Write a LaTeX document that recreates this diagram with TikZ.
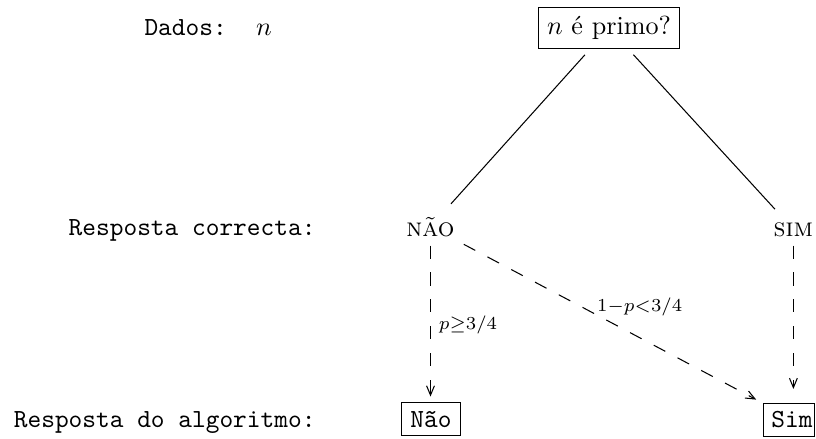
\documentclass[tikz,border=0pt]{standalone}
\usepackage{fontspec}
\usetikzlibrary{arrows.meta}
\begin{document}
\begin{tikzpicture}[x=0.383pt,y=-0.383pt,
  box/.style={draw, inner sep=3.33pt},
  plain/.style={inner sep=0pt},
  dsh/.style={dash pattern=on 5pt off 5.3pt},
  tip/.style={-{Straight Barb[length=3.6pt,width=3pt]}},
  lab/.style={inner sep=0pt, anchor=base west}]
\useasboundingbox (0,0) rectangle (816,438);
% left column
\node[plain, anchor=base west] (dados) at (144,35) {\texttt{Dados:}};
\node[plain, anchor=base] (n) at (264,35) {$n$};
\node[plain, anchor=base east] (rc) at (316,235) {\texttt{Resposta correcta:}};
\node[plain, anchor=base east] (ra) at (316,427) {\texttt{Resposta do algoritmo:}};
% tree
\node[box] (q) at (609,28) {$n$ é primo?};
\node[anchor=base] (nao) at (430.5,236) {\textsc{não}};
\node[anchor=base] (sim) at (793.4,236) {\textsc{sim}};
\node[box, anchor=base] (naob) at (431,427) {\texttt{Não}};
\node[plain, anchor=base] (simb) at (792,427) {\texttt{Sim}};
\node[draw, inner sep=0pt, minimum width=19.4pt, minimum height=12.4pt] (simf) at (789,420) {};
% connectors
\draw[shorten <=3pt, shorten >=2pt] (q) -- (nao);
\draw[shorten <=3pt, shorten >=2pt] (q) -- (sim);
\draw[dsh, tip, shorten >=2pt] (nao.south) -- (nao.south |- naob.north);
\draw[dsh, tip, shorten >=5.5pt] (sim.south) -- (sim.south |- simf.north);
\draw[dsh, tip, shorten >=3pt] (nao) -- (simf.north west);
% labels
\node[lab] (l1) at (438.3,329) {$\scriptstyle p\geq 3/4$};
\node[lab] (l2) at (596.7,311) {$\scriptstyle 1-p<3/4$};
\end{tikzpicture}
\end{document}
